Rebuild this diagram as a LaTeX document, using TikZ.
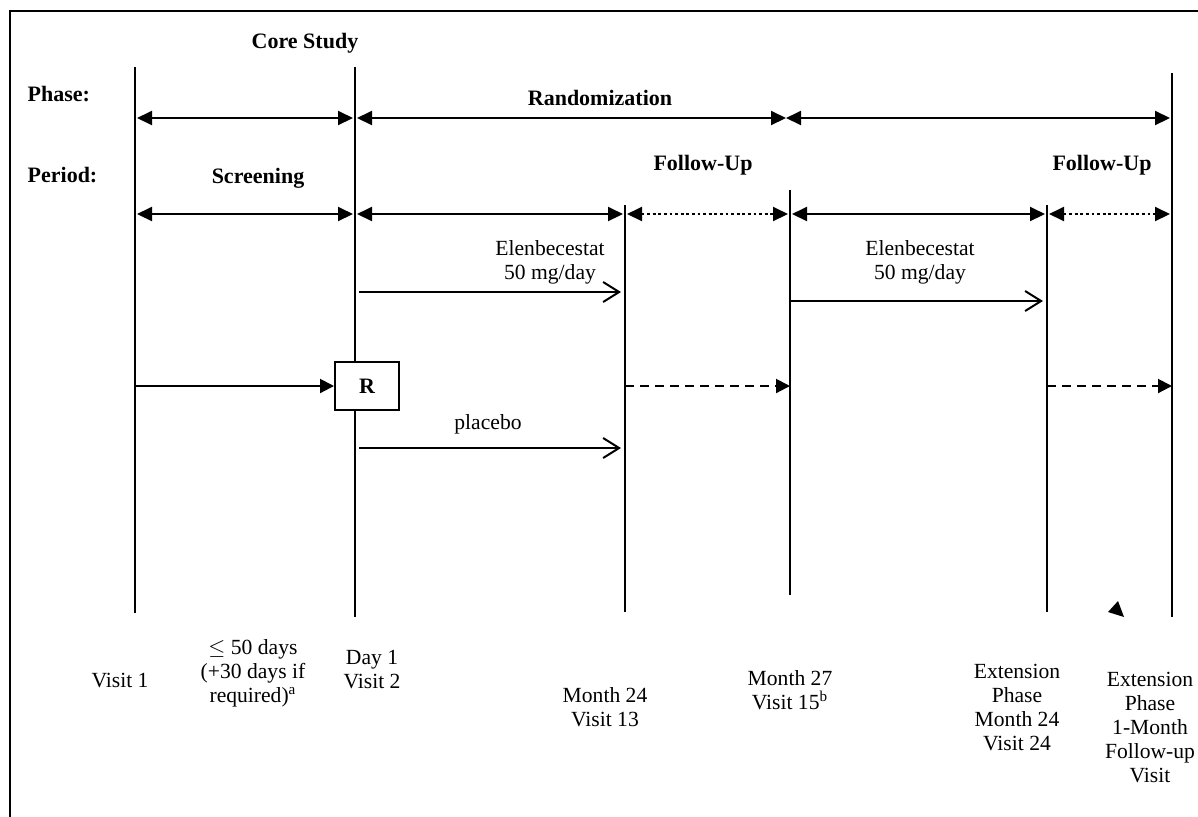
\documentclass[tikz,border=0pt]{standalone}
\usepackage{fontspec}
\setmainfont{Liberation Serif}
\usetikzlibrary{arrows.meta}

\begin{document}
\begin{tikzpicture}[x=0.5pt,y=-0.5pt,line width=1pt,
  font=\fontsize{10.8}{12}\selectfont,
  span/.style={{Triangle[length=7.5pt,width=7pt]}-{Triangle[length=7.5pt,width=7pt]},shorten <=1pt,shorten >=1pt},
  dotspan/.style={span,dash pattern=on 1.4pt off 1.4pt},
  dose/.style={-{Straight Barb[length=8pt,width=10pt]},shorten >=2pt},
  fwd/.style={-{Triangle[length=7pt,width=7pt]}},
  head/.style={font=\fontsize{11}{12}\selectfont\bfseries}]
\useasboundingbox (0,0) rectangle (1198,816);
\draw (10,11) rectangle (1230,850);

\coordinate (v1t) at (135,67);   \coordinate (v1b) at (135,613);
\coordinate (v2t) at (355,67);   \coordinate (v2b) at (355,617);
\coordinate (v3t) at (625,205);  \coordinate (v3b) at (625,612);
\coordinate (v4t) at (790,190);  \coordinate (v4b) at (790,595);
\coordinate (v5t) at (1047,205); \coordinate (v5b) at (1047,612);
\coordinate (v6t) at (1172,73);  \coordinate (v6b) at (1172,617);
\foreach \n in {v1,v2,v3,v4,v5,v6}
  \draw (\n t) -- (\n b);

\coordinate (phaserow) at (0,118);
\coordinate (periodrow) at (0,214);
\coordinate (doserow) at (0,292);
\coordinate (extdoserow) at (0,301);
\coordinate (placeborow) at (0,448);
\coordinate (bowtie) at (786,118);

\node[head] (corestudy) at (305,43) {Core Study};
\node[head,anchor=west] (phase) at (20,94) {Phase:};
\node[head,anchor=west] (period) at (20,175) {Period:};
\node[head] (randomization) at (600,98) {Randomization};
\node[head] (screening) at (258,178) {Screening};
\node[head] (followup) at (703,165) {Follow-Up};
\node[head] (extfollowup) at (1102,165) {Follow-Up};

\draw[span] (v1t |- phaserow) -- (v2t |- phaserow);
\draw[span,shorten >=0pt] (v2t |- phaserow) -- (bowtie);
\draw[span,shorten <=0pt] (bowtie) -- (v6t |- phaserow);

\foreach \a/\b/\s in {v1t/v2t/span,v2t/v3t/span,v3t/v4t/dotspan,v4t/v5t/span,v5t/v6t/dotspan}
  \draw[\s] (\a |- periodrow) -- (\b |- periodrow);

\node[align=center] (dose) at (550,262) {Elenbecestat\\50 mg/day};
\draw[dose] ([xshift=2pt]v2t |- doserow) -- (v3t |- doserow);
\node[align=center] (extdose) at (920,262) {Elenbecestat\\50 mg/day};
\draw[dose] (v4t |- extdoserow) -- (v5t |- extdoserow);

\node[draw,fill=white,head,minimum width=32pt,minimum height=24pt] (rbox) at (367,386) {R};
\draw[fwd] (v1t |- rbox) -- (rbox.west);
\draw[fwd,dash pattern=on 4.5pt off 3pt] (v3t |- rbox) -- (v4t |- rbox);
\draw[fwd,dash pattern=on 4.5pt off 3pt] (v5t |- rbox) -- (v6t |- rbox);

\node (placebo) at (488,424) {placebo};
\draw[dose] ([xshift=2pt]v2t |- placeborow) -- (v3t |- placeborow);

\fill (1118,601) -- (1108,612) -- (1124,617) -- cycle;

\node (visit1) at (120,680) {Visit 1};
\node[align=center] (window) at (253,673) {$\leq$ 50 days\\(+30 days if\\required)\textsuperscript{a}};
\node[align=center] (day1) at (372,670) {Day 1\\Visit 2};
\node[align=center] (month24) at (605,707) {Month 24\\Visit 13};
\node[align=center] (month27) at (790,690) {Month 27\\Visit 15\textsuperscript{b}};
\node[align=center] (extmonth24) at (1017,707) {Extension\\Phase\\Month 24\\Visit 24};
\node[align=center] (extfollow) at (1150,727) {Extension\\Phase\\1-Month\\Follow-up\\Visit};
\end{tikzpicture}
\end{document}
